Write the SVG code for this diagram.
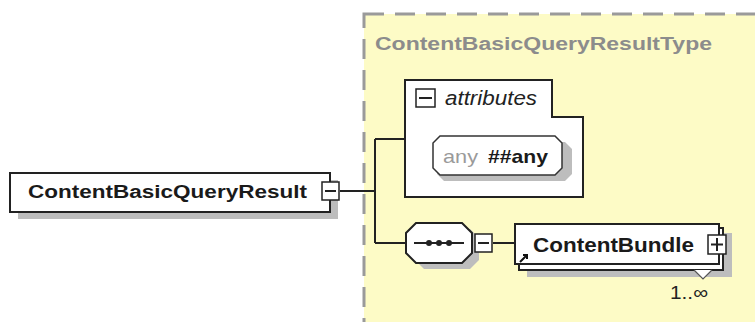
<svg xmlns="http://www.w3.org/2000/svg" width="755" height="322" viewBox="0 0 755 322">
<style>
.box{fill:#fff;stroke:#222;stroke-width:2}
.shd{fill:#bdbdbd}
.ln{fill:none;stroke:#222;stroke-width:2}
.ic{fill:#fff;stroke:#222;stroke-width:1.5}
.b{font-family:"Liberation Sans",Arial,sans-serif;font-weight:bold;fill:#1a1a1a}
</style>
<rect width="755" height="322" fill="#fff"/>
<g id="type">
<rect x="364" y="14" width="400" height="320" fill="#fdfbc6" stroke="#9a9a9a" stroke-width="3" stroke-dasharray="20,11"/>
<text x="375" y="50" class="b" font-size="18" style="fill:#8c8c8c" textLength="337" lengthAdjust="spacingAndGlyphs">ContentBasicQueryResultType</text>
</g>
<g id="connectors">
<path class="ln" d="M340 191 H375 M375 139 V243 M375 139 H405 M375 243 H405 M493 243 H515"/>
</g>
<g id="main">
<rect class="shd" x="18" y="180" width="320" height="39"/>
<rect class="box" x="10" y="173" width="320" height="39"/>
<text x="28" y="198" class="b" font-size="18" textLength="279" lengthAdjust="spacingAndGlyphs">ContentBasicQueryResult</text>
<rect class="ic" x="322" y="182" width="17" height="18"/>
<path class="ln" stroke-width="1.5" d="M325 191 H336"/>
</g>
<g id="attributes">
<path class="box" d="M405 80 H552 V117 H583 V197 H405 Z"/>
<rect class="ic" x="416" y="89" width="19" height="18"/>
<path class="ln" stroke-width="1.5" d="M419 98 H432"/>
<text x="445" y="105" font-family="Liberation Sans,Arial,sans-serif" font-style="italic" font-size="20" fill="#222" textLength="92" lengthAdjust="spacingAndGlyphs">attributes</text>
<path class="shd" d="M444 142 H565 L572 149 V174 L565 181 H444 L437 174 V149 Z"/>
<path fill="#fff" stroke="#333" stroke-width="1.5" d="M440 136 H555 L562 143 V168 L555 175 H440 L433 168 V143 Z"/>
<text x="443" y="163" font-family="Liberation Sans,Arial,sans-serif" font-size="19" fill="#9a9a9a" textLength="35" lengthAdjust="spacingAndGlyphs">any</text>
<text x="488" y="163" class="b" font-size="19" textLength="60" lengthAdjust="spacingAndGlyphs">##any</text>
</g>
<g id="sequence">
<path class="shd" d="M424 229 H470 L479 238 V260 L470 269 H424 L415 260 V238 Z"/>
<path fill="#fff" stroke="#222" stroke-width="2" d="M416 223 H462 L472 233 V253 L462 263 H416 L406 253 V233 Z"/>
<path class="ln" stroke-width="1.5" d="M414 243 H464"/>
<circle cx="429" cy="243" r="3" fill="#222"/>
<circle cx="439" cy="243" r="3" fill="#222"/>
<circle cx="449" cy="243" r="3" fill="#222"/>
<rect class="ic" x="475" y="234" width="17" height="18"/>
<path class="ln" stroke-width="1.5" d="M478 243 H489"/>
</g>
<g id="contentbundle">
<rect class="shd" x="527" y="233" width="205" height="44"/>
<rect class="box" x="519" y="228" width="204" height="42"/>
<rect class="box" x="515" y="224" width="204" height="40"/>
<text x="533" y="252" class="b" font-size="20" textLength="161" lengthAdjust="spacingAndGlyphs">ContentBundle</text>
<path d="M520 262 L527 255 M523 255 H527 V259" fill="none" stroke="#111" stroke-width="2"/>
<rect class="ic" x="708" y="235" width="18" height="19"/>
<path class="ln" stroke-width="1.5" d="M711 244.5 H723 M717 238 V251"/>
<path d="M694 270 L703 279 L712 270" fill="#fff" stroke="#555" stroke-width="1.2"/>
<text x="670" y="299" font-family="Liberation Sans,Arial,sans-serif" font-size="19" fill="#222" textLength="38" lengthAdjust="spacingAndGlyphs">1..∞</text>
</g>
</svg>
